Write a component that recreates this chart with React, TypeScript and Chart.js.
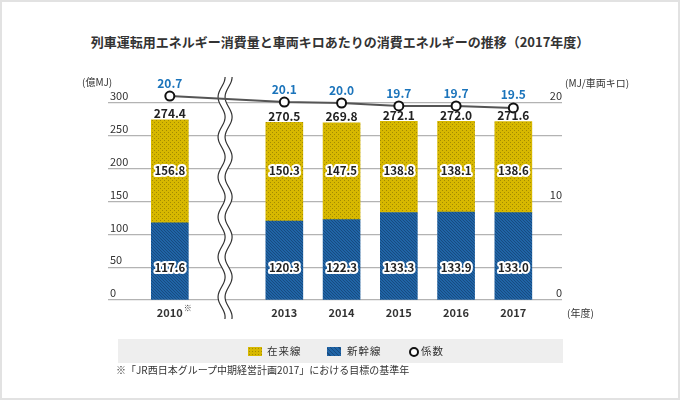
import React, { useEffect, useRef } from "react";
import { Chart, registerables } from "chart.js";

Chart.register(...registerables);

// Fiscal years shown; slot 1 on the x axis is the gap where the axis is broken.
const yearLabels = ["2010", "2013", "2014", "2015", "2016", "2017"];
const yearSlots = [0, 2, 3, 4, 5, 6];
const breakSlot = 1;

// Energy consumption (100 million MJ)
const shinkansen = [117.6, 120.3, 122.3, 133.3, 133.9, 133.0];
const zairaisen = [156.8, 150.3, 147.5, 138.8, 138.1, 138.6];
const totals = [274.4, 270.5, 269.8, 272.1, 272.0, 271.6];

// Energy per car-kilometre (MJ)
const coefficient = [20.7, 20.1, 20.0, 19.7, 19.7, 19.5];

const leftTicks = [0, 50, 100, 150, 200, 250, 300];
const rightTicks = [0, 10, 20];
const LEFT_TOP = 300;
const RIGHT_TOP = 20;

// plot geometry: the top grid line sits at GRID_TOP, the plot area reaches higher
// so that points above the top grid line are still drawn
const AREA_TOP = 82;
const GRID_TOP = 103;
const AREA_BOTTOM = 300;
const headroom = (AREA_BOTTOM - AREA_TOP) / (AREA_BOTTOM - GRID_TOP);

const FONT = '"Noto Sans CJK JP", "Noto Sans", sans-serif';

function dotPattern(ctx: CanvasRenderingContext2D) {
  const c = document.createElement("canvas");
  c.width = 4;
  c.height = 4;
  const g = c.getContext("2d")!;
  g.fillStyle = "#d7b800";
  g.fillRect(0, 0, 4, 4);
  g.fillStyle = "#a38b00";
  g.fillRect(0, 0, 1, 1);
  g.fillRect(2, 2, 1, 1);
  return ctx.createPattern(c, "repeat")!;
}

function hatchPattern(ctx: CanvasRenderingContext2D) {
  const c = document.createElement("canvas");
  c.width = 6;
  c.height = 6;
  const g = c.getContext("2d")!;
  g.fillStyle = "#2064a6";
  g.fillRect(0, 0, 6, 6);
  g.fillStyle = "#174b80";
  for (let y = 0; y < 6; y++) {
    for (let x = 0; x < 6; x++) {
      if ((x - y + 6) % 3 === 0) g.fillRect(x, y, 1, 1);
    }
  }
  return ctx.createPattern(c, "repeat")!;
}

const axisBreak = {
  id: "axisBreak",
  beforeDatasetsDraw(chart: any) {
    const ctx = chart.ctx as CanvasRenderingContext2D;
    const cx = chart.scales.x.getPixelForValue(breakSlot) - 2;
    const top = 77;
    const bottom = 319;
    const amp = 3.5;
    const period = 40;
    const gap = 3.5;
    const wave = (y: number) => cx + amp * Math.cos((2 * Math.PI * (y - top)) / period);
    ctx.save();
    // white band between the two wavy strokes
    ctx.beginPath();
    for (let y = top; y <= bottom; y++) {
      const x = wave(y) - gap;
      if (y === top) ctx.moveTo(x, y);
      else ctx.lineTo(x, y);
    }
    for (let y = bottom; y >= top; y--) ctx.lineTo(wave(y) + gap, y);
    ctx.closePath();
    ctx.fillStyle = "#ffffff";
    ctx.fill();
    ctx.strokeStyle = "#333333";
    ctx.lineWidth = 1.2;
    for (const off of [-gap, gap]) {
      ctx.beginPath();
      for (let y = top; y <= bottom; y++) {
        const x = wave(y) + off;
        if (y === top) ctx.moveTo(x, y);
        else ctx.lineTo(x, y);
      }
      ctx.stroke();
    }
    ctx.restore();
  },
};

const chartText = {
  id: "chartText",
  afterDatasetsDraw(chart: any) {
    const ctx = chart.ctx as CanvasRenderingContext2D;
    const xs = chart.scales.x;
    const ys = chart.scales.y;
    const y1 = chart.scales.y1;
    const area = chart.chartArea;
    ctx.save();
    ctx.textBaseline = "middle";

    // left axis tick labels sit on top of their grid lines
    ctx.font = `11px ${FONT}`;
    ctx.fillStyle = "#333333";
    ctx.textAlign = "left";
    for (const v of leftTicks) ctx.fillText(String(v), area.left + 2, ys.getPixelForValue(v) - 7);
    ctx.textAlign = "right";
    for (const v of rightTicks) ctx.fillText(String(v), area.right, y1.getPixelForValue(v) - 7);

    // unit captions
    ctx.font = `10px ${FONT}`;
    ctx.textAlign = "left";
    ctx.fillText("(億MJ)", 82, 82);
    ctx.fillText("(MJ/車両キロ)", 565, 83);
    ctx.fillText("(年度)", 567, 313);

    // fiscal year labels
    ctx.font = `bold 11px ${FONT}`;
    ctx.textAlign = "center";
    yearLabels.forEach((label, i) => {
      ctx.fillText(label, xs.getPixelForValue(yearSlots[i]), 313);
    });
    ctx.font = `8px ${FONT}`;
    ctx.textAlign = "left";
    ctx.fillText("※", xs.getPixelForValue(yearSlots[0]) + 14, 308);

    // totals above each bar
    ctx.font = `bold 12px ${FONT}`;
    ctx.textAlign = "center";
    ctx.fillStyle = "#222222";
    totals.forEach((t, i) => {
      ctx.fillText(t.toFixed(1), xs.getPixelForValue(yearSlots[i]), ys.getPixelForValue(t) - 6);
    });

    // segment values with a white halo
    ctx.font = `bold 11.5px ${FONT}`;
    ctx.lineJoin = "round";
    const halo = (text: string, x: number, y: number) => {
      ctx.strokeStyle = "#ffffff";
      ctx.lineWidth = 4;
      ctx.strokeText(text, x, y);
      ctx.fillStyle = "#222222";
      ctx.fillText(text, x, y);
    };
    shinkansen.forEach((v, i) => halo(v.toFixed(1), xs.getPixelForValue(yearSlots[i]), ys.getPixelForValue(50)));
    zairaisen.forEach((v, i) => halo(v.toFixed(1), xs.getPixelForValue(yearSlots[i]), ys.getPixelForValue(197)));

    // coefficient values above the points
    ctx.font = `bold 12px ${FONT}`;
    ctx.fillStyle = "#1b74bb";
    coefficient.forEach((v, i) => {
      ctx.fillText(v.toFixed(1), xs.getPixelForValue(yearSlots[i]), y1.getPixelForValue(v) - 13);
    });
    ctx.restore();
  },
};

function EnergyChart() {
  const ref = useRef<HTMLCanvasElement | null>(null);
  useEffect(() => {
    const canvas = ref.current!;
    const ctx = canvas.getContext("2d")!;
    const chart = new Chart(ctx, {
      type: "bar",
      data: {
        datasets: [
          {
            type: "line",
            label: "係数",
            data: coefficient.map((v, i) => ({ x: yearSlots[i], y: v })),
            yAxisID: "y1",
            borderColor: "#555555",
            borderWidth: 2,
            pointRadius: 4.5,
            pointBorderWidth: 2,
            pointBackgroundColor: "#ffffff",
            pointBorderColor: "#111111",
            order: 0,
          } as any,
          {
            label: "新幹線",
            data: shinkansen.map((v, i) => ({ x: yearSlots[i], y: v })),
            backgroundColor: hatchPattern(ctx),
            barThickness: 37,
            yAxisID: "y",
            order: 1,
          },
          {
            label: "在来線",
            data: zairaisen.map((v, i) => ({ x: yearSlots[i], y: v })),
            backgroundColor: dotPattern(ctx),
            barThickness: 37,
            yAxisID: "y",
            order: 1,
          },
        ],
      },
      options: {
        responsive: false,
        animation: false,
        events: [],
        layout: { padding: { left: 108, right: 118, top: AREA_TOP, bottom: 400 - AREA_BOTTOM } },
        plugins: { legend: { display: false }, tooltip: { enabled: false }, title: { display: false } },
        scales: {
          x: { type: "linear", min: -1.08, max: 6.85, stacked: true, offset: false, display: false },
          y: {
            min: 0,
            max: LEFT_TOP * headroom,
            stacked: true,
            ticks: { display: false, stepSize: 50, includeBounds: false },
            grid: { color: "#b3b3b3", lineWidth: 1.2, drawTicks: false },
            border: { display: false },
          },
          y1: { min: 0, max: RIGHT_TOP * headroom, position: "right", display: false },
        },
      },
      plugins: [axisBreak, chartText],
    });
    return () => chart.destroy();
  }, []);
  return <canvas ref={ref} width={680} height={400} style={{ position: "absolute", left: 0, top: 0 }} />;
}

export default function App() {
  const legendText: React.CSSProperties = { fontSize: 10.5, color: "#333", letterSpacing: 1 };
  return (
    <div style={{ position: "absolute", left: 0, top: 0, width: 680, height: 400, background: "#fff", fontFamily: FONT, overflow: "hidden" }}>
      <div
        style={{
          position: "absolute",
          left: 0,
          top: 32,
          width: 680,
          textAlign: "center",
          fontSize: 13,
          fontWeight: "bold",
          color: "#333",
          lineHeight: "20px",
        }}
      >
        列車運転用エネルギー消費量と車両キロあたりの消費エネルギーの推移（2017年度）
      </div>
      <EnergyChart />
      <div style={{ position: "absolute", left: 118, top: 339, width: 445, height: 24, background: "#eeeeee" }} />
      <div style={{ position: "absolute", left: 248, top: 347, width: 14, height: 9, backgroundColor: "#d7b800", backgroundImage: "radial-gradient(#a38b00 0.6px, transparent 0.9px)", backgroundSize: "3px 3px" }} />
      <div style={{ position: "absolute", left: 267, top: 342, lineHeight: "18px", ...legendText }}>在来線</div>
      <div style={{ position: "absolute", left: 327, top: 347, width: 14, height: 9, background: "repeating-linear-gradient(45deg, #2064a6 0px, #2064a6 2px, #174b80 2px, #174b80 3px)" }} />
      <div style={{ position: "absolute", left: 347, top: 342, lineHeight: "18px", ...legendText }}>新幹線</div>
      <div style={{ position: "absolute", left: 409, top: 347, width: 6, height: 6, borderRadius: "50%", border: "2px solid #111", background: "#fff" }} />
      <div style={{ position: "absolute", left: 421, top: 342, lineHeight: "18px", ...legendText }}>係数</div>
      <div style={{ position: "absolute", left: 116, top: 362, lineHeight: "16px", fontSize: 10, color: "#333" }}>
        ※「JR西日本グループ中期経営計画2017」における目標の基準年
      </div>
      <div style={{ position: "absolute", left: 0, top: 0, width: 680, height: 400, boxSizing: "border-box", border: "2px solid #e2e2e2", pointerEvents: "none" }} />
    </div>
  );
}
